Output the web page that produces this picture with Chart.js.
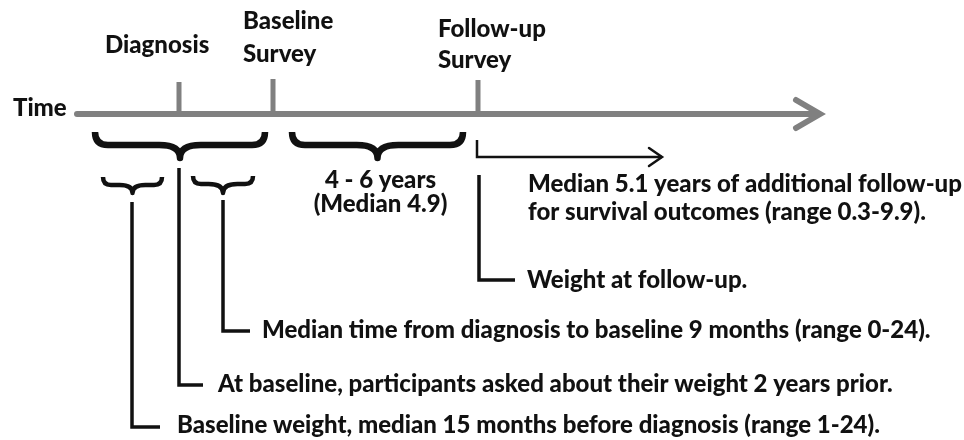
<!DOCTYPE html>
<html>
<head>
<meta charset="utf-8">
<script src="https://cdn.jsdelivr.net/npm/chart.js@4"></script>
<style>
body { margin: 0; background: #fff; }
</style>
</head>
<body>
<canvas id="timelineChart" width="964" height="440"></canvas>
<script>
// diagram units: x to the right, y downward (same size as the picture)
var timelineStart = 77;
var timelineEnd = 818;
var timelineY = 114;

// events on the time axis
var eventNames = [['Diagnosis'], ['Baseline', 'Survey'], ['Follow-up', 'Survey']];
var eventX = [179, 273, 478];
var eventTickTop = [82, 79, 80];
var eventLabelX = [105, 243, 438];
var eventLabelY = [[53], [29, 62], [37, 68]];

// curly braces under the axis
var braceStart = [95, 292, 103, 193];
var braceEnd = [265, 463, 162, 253];
var braceTop = [132, 132, 177, 176];
var braceBar = [145, 145, 185, 184];
var braceTip = [158, 158, 193, 193];
var braceHeavy = [true, true, false, false];

// interval label under the second brace
var spanText = ['4 - 6 years', '(Median 4.9)'];
var spanY = [188, 212];

// L shaped callouts
var calloutX = [479, 223, 179, 132];
var calloutTop = [175, 200, 168, 202];
var calloutY = [280, 331, 385, 427];
var calloutEnd = [515, 250, 203, 160];

// notes
var noteText = [
  'Median 5.1 years of additional follow-up',
  'for survival outcomes (range 0.3-9.9).',
  'Weight at follow-up.',
  'Median time from diagnosis to baseline 9 months (range 0-24).',
  'At baseline, participants asked about their weight 2 years prior.',
  'Baseline weight, median 15 months before diagnosis (range 1-24).'
];
var noteX = [528, 528, 527, 262, 218, 177];
var noteY = [192, 220, 288, 338, 392, 433];

// additional follow-up arrow
var followX = [477, 477, 662];
var followY = [140, 157, 157];

var gray = '#808080';
var ink = '#111111';

function pts(xs, ys) {
    return xs.map(function (x, i) { return { x: x, y: ys[i] }; });
}

function lineSet(data, color, width) {
    return {
        type: 'line',
        data: data,
        borderColor: color,
        borderWidth: width,
        pointRadius: 0,
        fill: false,
        tension: 0,
        borderCapStyle: 'round',
        borderJoinStyle: 'miter'
    };
}

var datasets = [];
datasets.push(lineSet(pts([timelineStart, timelineEnd], [timelineY, timelineY]), gray, 6));
datasets.push(lineSet(pts([timelineEnd - 22, timelineEnd + 2, timelineEnd - 22], [timelineY - 14, timelineY, timelineY + 14]), gray, 6));
eventX.forEach(function (x, i) {
    var d = lineSet(pts([x, x], [eventTickTop[i], timelineY]), gray, 5);
    d.borderCapStyle = 'butt';
    datasets.push(d);
});
calloutX.forEach(function (x, i) {
    var d = lineSet(pts([x, x, calloutEnd[i]], [calloutTop[i], calloutY[i], calloutY[i]]), ink, 3.5);
    d.borderCapStyle = 'butt';
    datasets.push(d);
});
var f = lineSet(pts(followX, followY), ink, 2.5);
f.borderCapStyle = 'butt';
datasets.push(f);
var last = followX.length - 1;
datasets.push(lineSet(pts([followX[last] - 13, followX[last], followX[last] - 13],
    [followY[last] - 9, followY[last], followY[last] + 9]), ink, 2.5));

var fontFamily = 'Lato, "Open Sans", sans-serif';
var fontWeight = '900';

var diagramText = {
    id: 'diagramText',
    afterDatasetsDraw: function (chart) {
        var ctx = chart.ctx;
        var sx = chart.scales.x, sy = chart.scales.y;
        var px = function (v) { return sx.getPixelForValue(v); };
        var py = function (v) { return sy.getPixelForValue(v); };

        // braces
        ctx.save();
        ctx.strokeStyle = ink;
        ctx.lineCap = 'butt';
        ctx.lineJoin = 'round';
        braceStart.forEach(function (s, i) {
            var x0 = px(s), x1 = px(braceEnd[i]);
            var xc = (x0 + x1) / 2;
            var yT = py(braceTop[i]), yB = py(braceBar[i]), yP = py(braceTip[i]);
            var r = yB - yT;
            var r2 = (yP - yB) * 1.6;
            ctx.lineWidth = braceHeavy[i] ? 6.5 : 4.5;
            ctx.beginPath();
            ctx.moveTo(x0, yT);
            ctx.quadraticCurveTo(x0, yB, x0 + r, yB);
            ctx.lineTo(xc - r2, yB);
            ctx.quadraticCurveTo(xc, yB, xc, yP);
            ctx.quadraticCurveTo(xc, yB, xc + r2, yB);
            ctx.lineTo(x1 - r, yB);
            ctx.quadraticCurveTo(x1, yB, x1, yT);
            ctx.stroke();
        });
        ctx.restore();

        // text, sized so the longest note matches the picture
        ctx.save();
        ctx.font = fontWeight + ' 20px ' + fontFamily;
        var w = ctx.measureText(noteText[5]).width;
        var size = 20 * 703 / w;
        ctx.font = fontWeight + ' ' + size.toFixed(2) + 'px ' + fontFamily;
        ctx.fillStyle = ink;
        ctx.textBaseline = 'alphabetic';
        ctx.textAlign = 'left';
        ctx.fillText('Time', px(13), py(116));
        eventNames.forEach(function (lines, i) {
            lines.forEach(function (t, j) {
                ctx.fillText(t, px(eventLabelX[i]), py(eventLabelY[i][j]));
            });
        });
        noteText.forEach(function (t, i) {
            ctx.fillText(t, px(noteX[i]), py(noteY[i]));
        });
        ctx.textAlign = 'center';
        var spanCenter = (braceStart[1] + braceEnd[1]) / 2;
        spanText.forEach(function (t, i) {
            ctx.fillText(t, px(spanCenter + 3), py(spanY[i]));
        });
        ctx.restore();
    }
};

var ctx = document.getElementById('timelineChart');
var timelineChart = new Chart(ctx, {
    type: 'scatter',
    data: { datasets: datasets },
    options: {
        responsive: false,
        animation: false,
        layout: { padding: 0 },
        plugins: {
            legend: { display: false },
            tooltip: { enabled: false }
        },
        scales: {
            x: { type: 'linear', min: 0, max: 964, display: false },
            y: { type: 'linear', min: 0, max: 440, reverse: true, display: false }
        }
    },
    plugins: [diagramText]
});
</script>
</body>
</html>
